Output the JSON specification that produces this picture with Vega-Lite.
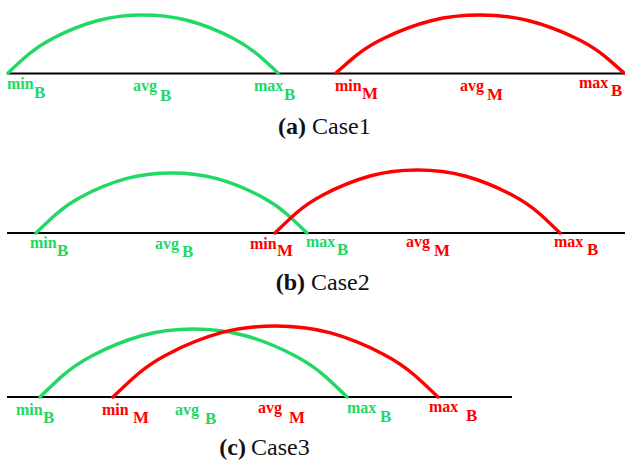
{
  "$schema": "https://vega.github.io/schema/vega-lite/v6.json",
  "width": 625,
  "height": 465,
  "padding": 0,
  "autosize": {"type": "none"},
  "background": "white",
  "config": {"view": {"stroke": null}},
  "datasets": {
    "baselines": [
      {"panel": "a", "x": 7, "x2": 625, "y": 73.5},
      {"panel": "b", "x": 7, "x2": 625, "y": 233},
      {"panel": "c", "x": 7, "x2": 512, "y": 397}
    ],
    "arcs": [
      {"curve": "aB", "series": "B", "x": 8, "y": 73},
      {"curve": "aB", "series": "B", "x": 28, "y": 54.8},
      {"curve": "aB", "series": "B", "x": 53, "y": 38.2},
      {"curve": "aB", "series": "B", "x": 98, "y": 20.5},
      {"curve": "aB", "series": "B", "x": 143, "y": 15},
      {"curve": "aB", "series": "B", "x": 188, "y": 20.5},
      {"curve": "aB", "series": "B", "x": 233, "y": 38.2},
      {"curve": "aB", "series": "B", "x": 258, "y": 54.8},
      {"curve": "aB", "series": "B", "x": 278, "y": 73},
      {"curve": "aM", "series": "M", "x": 336, "y": 73},
      {"curve": "aM", "series": "M", "x": 357, "y": 54.8},
      {"curve": "aM", "series": "M", "x": 384, "y": 38.2},
      {"curve": "aM", "series": "M", "x": 432, "y": 20.5},
      {"curve": "aM", "series": "M", "x": 480, "y": 15},
      {"curve": "aM", "series": "M", "x": 528, "y": 20.5},
      {"curve": "aM", "series": "M", "x": 576, "y": 38.2},
      {"curve": "aM", "series": "M", "x": 603, "y": 54.8},
      {"curve": "aM", "series": "M", "x": 624, "y": 73},
      {"curve": "bB", "series": "B", "x": 36, "y": 233},
      {"curve": "bB", "series": "B", "x": 56, "y": 214.2},
      {"curve": "bB", "series": "B", "x": 81, "y": 197},
      {"curve": "bB", "series": "B", "x": 126, "y": 178.7},
      {"curve": "bB", "series": "B", "x": 171.5, "y": 173},
      {"curve": "bB", "series": "B", "x": 217, "y": 178.7},
      {"curve": "bB", "series": "B", "x": 262, "y": 197},
      {"curve": "bB", "series": "B", "x": 287, "y": 214.2},
      {"curve": "bB", "series": "B", "x": 307, "y": 233},
      {"curve": "bM", "series": "M", "x": 275, "y": 233},
      {"curve": "bM", "series": "M", "x": 296, "y": 213.2},
      {"curve": "bM", "series": "M", "x": 322.5, "y": 195.2},
      {"curve": "bM", "series": "M", "x": 370, "y": 176},
      {"curve": "bM", "series": "M", "x": 417.5, "y": 170},
      {"curve": "bM", "series": "M", "x": 465, "y": 176},
      {"curve": "bM", "series": "M", "x": 512.5, "y": 195.2},
      {"curve": "bM", "series": "M", "x": 539, "y": 213.2},
      {"curve": "bM", "series": "M", "x": 560, "y": 233},
      {"curve": "cB", "series": "B", "x": 40, "y": 397},
      {"curve": "cB", "series": "B", "x": 62.7, "y": 375.6},
      {"curve": "cB", "series": "B", "x": 91.2, "y": 356.2},
      {"curve": "cB", "series": "B", "x": 142.3, "y": 335.5},
      {"curve": "cB", "series": "B", "x": 193.5, "y": 329},
      {"curve": "cB", "series": "B", "x": 244.7, "y": 335.5},
      {"curve": "cB", "series": "B", "x": 295.8, "y": 356.2},
      {"curve": "cB", "series": "B", "x": 324.3, "y": 375.6},
      {"curve": "cB", "series": "B", "x": 347, "y": 397},
      {"curve": "cM", "series": "M", "x": 113, "y": 397},
      {"curve": "cM", "series": "M", "x": 137, "y": 374.7},
      {"curve": "cM", "series": "M", "x": 167.2, "y": 354.4},
      {"curve": "cM", "series": "M", "x": 221.3, "y": 332.7},
      {"curve": "cM", "series": "M", "x": 275.5, "y": 326},
      {"curve": "cM", "series": "M", "x": 329.7, "y": 332.7},
      {"curve": "cM", "series": "M", "x": 383.8, "y": 354.4},
      {"curve": "cM", "series": "M", "x": 414, "y": 374.7},
      {"curve": "cM", "series": "M", "x": 438, "y": 397}
    ],
    "labels": [
      {"series": "B", "kind": "base", "text": "min", "x": 7, "y": 89},
      {"series": "B", "kind": "sub", "text": "B", "x": 34, "y": 98},
      {"series": "B", "kind": "base", "text": "avg", "x": 133, "y": 91},
      {"series": "B", "kind": "sub", "text": "B", "x": 160, "y": 101},
      {"series": "B", "kind": "base", "text": "max", "x": 254, "y": 91},
      {"series": "B", "kind": "sub", "text": "B", "x": 284, "y": 100},
      {"series": "M", "kind": "base", "text": "min", "x": 335, "y": 91},
      {"series": "M", "kind": "sub", "text": "M", "x": 362, "y": 99},
      {"series": "M", "kind": "base", "text": "avg", "x": 460, "y": 91},
      {"series": "M", "kind": "sub", "text": "M", "x": 487, "y": 100},
      {"series": "M", "kind": "base", "text": "max", "x": 579, "y": 88},
      {"series": "M", "kind": "sub", "text": "B", "x": 611, "y": 96},
      {"series": "B", "kind": "base", "text": "min", "x": 30, "y": 248},
      {"series": "B", "kind": "sub", "text": "B", "x": 57, "y": 256},
      {"series": "B", "kind": "base", "text": "avg", "x": 155, "y": 249},
      {"series": "B", "kind": "sub", "text": "B", "x": 182, "y": 257},
      {"series": "M", "kind": "base", "text": "min", "x": 250, "y": 249},
      {"series": "M", "kind": "sub", "text": "M", "x": 277, "y": 256},
      {"series": "B", "kind": "base", "text": "max", "x": 306, "y": 247},
      {"series": "B", "kind": "sub", "text": "B", "x": 337, "y": 255},
      {"series": "M", "kind": "base", "text": "avg", "x": 406, "y": 247},
      {"series": "M", "kind": "sub", "text": "M", "x": 434, "y": 256},
      {"series": "M", "kind": "base", "text": "max", "x": 554, "y": 247},
      {"series": "M", "kind": "sub", "text": "B", "x": 587, "y": 255},
      {"series": "B", "kind": "base", "text": "min", "x": 16, "y": 415},
      {"series": "B", "kind": "sub", "text": "B", "x": 43, "y": 423},
      {"series": "M", "kind": "base", "text": "min", "x": 102, "y": 415},
      {"series": "M", "kind": "sub", "text": "M", "x": 133, "y": 423},
      {"series": "B", "kind": "base", "text": "avg", "x": 175, "y": 415},
      {"series": "B", "kind": "sub", "text": "B", "x": 205, "y": 424},
      {"series": "M", "kind": "base", "text": "avg", "x": 258, "y": 413},
      {"series": "M", "kind": "sub", "text": "M", "x": 289, "y": 423},
      {"series": "B", "kind": "base", "text": "max", "x": 347, "y": 413},
      {"series": "B", "kind": "sub", "text": "B", "x": 380, "y": 422},
      {"series": "M", "kind": "base", "text": "max", "x": 429, "y": 412},
      {"series": "M", "kind": "sub", "text": "B", "x": 466, "y": 421}
    ],
    "titles": [
      {"part": "tag", "text": "(a)", "x": 306, "y": 134},
      {"part": "name", "text": "Case1", "x": 312, "y": 134},
      {"part": "tag", "text": "(b)", "x": 305, "y": 290},
      {"part": "name", "text": "Case2", "x": 311, "y": 290},
      {"part": "tag", "text": "(c)", "x": 246, "y": 455},
      {"part": "name", "text": "Case3", "x": 251, "y": 455}
    ]
  },
  "layer": [
    {
      "data": {"name": "baselines"},
      "mark": {"type": "rule", "color": "black", "strokeWidth": 2},
      "encoding": {
        "x": {"field": "x", "type": "quantitative", "scale": {"domain": [0, 625], "nice": false, "zero": false}, "axis": null},
        "x2": {"field": "x2"},
        "y": {"field": "y", "type": "quantitative", "scale": {"domain": [0, 465], "nice": false, "zero": false, "reverse": true}, "axis": null}
      }
    },
    {
      "data": {"name": "arcs"},
      "mark": {"type": "line", "strokeWidth": 3.4, "interpolate": "natural", "strokeCap": "round"},
      "encoding": {
        "x": {"field": "x", "type": "quantitative"},
        "y": {"field": "y", "type": "quantitative"},
        "detail": {"field": "curve"},
        "color": {"field": "series", "type": "nominal", "scale": {"domain": ["B", "M"], "range": ["#22d865", "#ff0000"]}, "legend": null}
      }
    },
    {
      "data": {"name": "labels"},
      "transform": [{"filter": "datum.kind === 'base'"}],
      "mark": {"type": "text", "align": "left", "baseline": "alphabetic", "font": "Liberation Serif", "fontWeight": "bold", "fontSize": 16},
      "encoding": {
        "x": {"field": "x", "type": "quantitative"},
        "y": {"field": "y", "type": "quantitative"},
        "text": {"field": "text"},
        "color": {"field": "series", "type": "nominal", "legend": null}
      }
    },
    {
      "data": {"name": "labels"},
      "transform": [{"filter": "datum.kind === 'sub'"}],
      "mark": {"type": "text", "align": "left", "baseline": "alphabetic", "font": "Liberation Serif", "fontWeight": "bold", "fontSize": 17},
      "encoding": {
        "x": {"field": "x", "type": "quantitative"},
        "y": {"field": "y", "type": "quantitative"},
        "text": {"field": "text"},
        "color": {"field": "series", "type": "nominal", "legend": null}
      }
    },
    {
      "data": {"name": "titles"},
      "transform": [{"filter": "datum.part === 'tag'"}],
      "mark": {"type": "text", "align": "right", "baseline": "alphabetic", "font": "Liberation Serif", "fontWeight": "bold", "fontSize": 24, "color": "#111111"},
      "encoding": {
        "x": {"field": "x", "type": "quantitative"},
        "y": {"field": "y", "type": "quantitative"},
        "text": {"field": "text"}
      }
    },
    {
      "data": {"name": "titles"},
      "transform": [{"filter": "datum.part === 'name'"}],
      "mark": {"type": "text", "align": "left", "baseline": "alphabetic", "font": "Liberation Serif", "fontSize": 24, "color": "#111111"},
      "encoding": {
        "x": {"field": "x", "type": "quantitative"},
        "y": {"field": "y", "type": "quantitative"},
        "text": {"field": "text"}
      }
    }
  ]
}
